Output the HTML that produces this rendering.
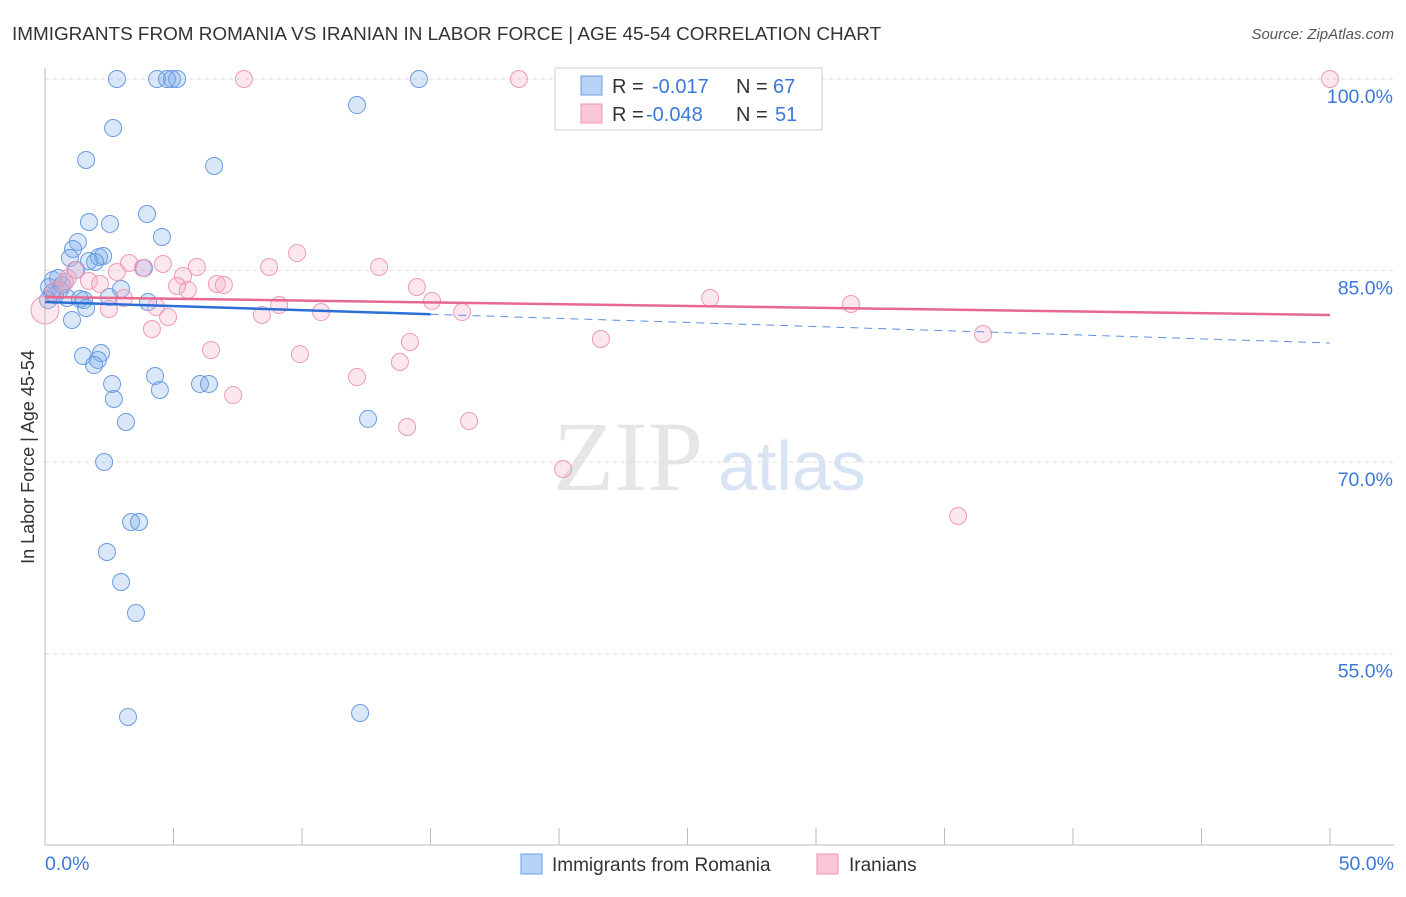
<!DOCTYPE html>
<html><head><meta charset="utf-8"><style>
body{margin:0;background:#fff;font-family:"Liberation Sans",sans-serif;}
svg text{font-family:"Liberation Sans",sans-serif;}
</style></head><body>
<svg id="chart" width="1406" height="892" xmlns="http://www.w3.org/2000/svg">
<text x="12" y="40" font-size="18.9" fill="#333">IMMIGRANTS FROM ROMANIA VS IRANIAN IN LABOR FORCE | AGE 45-54 CORRELATION CHART</text>
<text x="1394" y="39" font-size="15" fill="#555" font-style="italic" text-anchor="end">Source: ZipAtlas.com</text>
<text x="553" y="490" font-size="100" fill="#e6e6e6" font-family="Liberation Serif" style="font-family:'Liberation Serif',serif">ZIP</text>
<text x="718" y="490" font-size="70" fill="#d8e4f4">atlas</text>
<g id="grid"></g>
<g id="axes"></g>
<g id="pts"></g>
<g id="trends"></g>
<text transform="translate(34,457) rotate(-90)" font-size="18" fill="#333" text-anchor="middle">In Labor Force | Age 45-54</text>
<g>
<rect x="555" y="68" width="267" height="62" fill="#fff" stroke="#ccc"/>
<rect x="581" y="76" width="21" height="19" fill="#b7d3f6" stroke="#6a9fe0"/>
<rect x="581" y="104" width="21" height="19" fill="#f9c6d5" stroke="#ee94b0"/>
<text x="612" y="93" font-size="20" fill="#333">R =</text>
<text x="652" y="93" font-size="20" fill="#3b78d8">-0.017</text>
<text x="736" y="93" font-size="20" fill="#333">N =</text>
<text x="773" y="93" font-size="20" fill="#3b78d8">67</text>
<text x="612" y="121" font-size="20" fill="#333">R =</text>
<text x="646" y="121" font-size="20" fill="#3b78d8">-0.048</text>
<text x="736" y="121" font-size="20" fill="#333">N =</text>
<text x="775" y="121" font-size="20" fill="#3b78d8">51</text>
</g>
<g>
<rect x="521" y="854" width="21" height="20" fill="#b7d3f6" stroke="#6a9fe0"/>
<text x="552" y="871" font-size="19" fill="#333">Immigrants from Romania</text>
<rect x="817" y="854" width="21" height="20" fill="#f9c6d5" stroke="#ee94b0"/>
<text x="849" y="871" font-size="19" fill="#333">Iranians</text>
</g>
</svg>
<script>
const yTicks=[100,85,70,55];
const yTickLabels=["100.0%","85.0%","70.0%","55.0%"];
const xTickLabels=["0.0%","50.0%"];
const blueX=[2.80,4.36,4.75,4.94,5.14,14.55,12.14,2.65,1.60,6.58,3.97,1.71,2.53,4.55,1.28,1.09,0.97,2.10,2.26,1.71,1.95,3.85,1.21,0.31,0.78,0.16,0.58,0.27,2.96,0.86,1.36,1.52,2.49,4.01,1.60,1.05,1.48,2.18,2.06,1.91,2.61,4.28,6.03,6.38,4.47,2.68,3.15,12.57,2.30,3.35,3.66,2.41,2.96,3.54,3.23,12.26,0.39,0.12,0.66,0.51];
const blueY=[100,100,100,100,100,100,97.96,96.16,93.66,93.19,89.43,88.80,88.65,87.63,87.24,86.69,85.98,86.06,86.14,85.75,85.67,85.20,85.04,84.26,84.10,83.71,83.48,83.24,83.56,82.85,82.77,82.69,82.93,82.54,82.07,81.13,78.31,78.54,78.00,77.60,76.12,76.74,76.12,76.12,75.65,74.94,73.14,73.38,70.01,65.31,65.31,62.96,60.61,58.18,50.04,50.35,83.08,82.69,83.87,84.42];
const pinkX=[7.74,18.44,50,9.81,3.27,4.59,5.91,8.72,13.00,2.80,1.17,5.37,0.89,1.71,3.81,5.14,5.56,6.69,6.96,14.47,3.07,0.78,2.49,4.32,4.79,8.44,9.11,10.74,15.06,16.23,25.88,31.36,4.16,6.46,9.92,14.20,21.63,36.50,13.81,12.14,7.32,14.09,16.50,20.16,35.53,0,0.39,2.14];
const pinkY=[100,100,100,86.37,85.59,85.51,85.28,85.28,85.28,84.89,85.04,84.57,84.42,84.18,85.20,83.79,83.48,83.95,83.87,83.71,82.85,84.10,81.99,82.15,81.36,81.52,82.30,81.75,82.62,81.75,82.85,82.38,80.42,78.78,78.46,79.40,79.64,80.03,77.84,76.66,75.25,72.75,73.22,69.46,65.78,81.91,83.48,83.95];
const blueTrend=[82.54,79.33];
const blueSolidEnd=15;
const pinkTrend=[82.93,81.52];
const NS="http://www.w3.org/2000/svg";
const xs=v=>45+v*25.7;
const ys=v=>79+(100-v)*12.77;
function mk(tag,attrs,parent){const e=document.createElementNS(NS,tag);for(const k in attrs)e.setAttribute(k,attrs[k]);document.getElementById(parent).appendChild(e);return e;}
yTicks.forEach((t,i)=>{
 const g=mk('line',{x1:45,x2:1394,y1:ys(t),y2:ys(t),stroke:'#ddd','stroke-dasharray':'4,4'},'grid');
 
 
 const tx=mk('text',{x:1393,y:ys(t)+24,'font-size':19.5,fill:'#3b78d8','text-anchor':'end'},'grid');
 tx.textContent=yTickLabels[i];
 
 
});
const ax=mk('line',{x1:45,x2:45,y1:68,y2:845,stroke:'#bbb'},'axes');


const bx=mk('line',{x1:45,x2:1394,y1:845,y2:845,stroke:'#bbb'},'axes');


for(let i=0;i<=10;i++){const tk=mk('line',{x1:xs(i*5),x2:xs(i*5),y1:828,y2:845,stroke:'#bbb'},'axes');
 
 }
[[0,'start',45],[50,'end',1394]].forEach((a,i)=>{const t=mk('text',{x:a[2],y:870,'font-size':19.5,fill:'#3b78d8','text-anchor':a[1]},'axes');t.textContent=xTickLabels[i];
 
 });
blueX.forEach((x,i)=>{const c=mk('circle',{cx:xs(x),cy:ys(blueY[i]),r:8.5,fill:'rgba(120,170,235,0.28)',stroke:'#6a9be0','stroke-width':1},'pts');
 
 });
pinkX.forEach((x,i)=>{const c=mk('circle',{cx:xs(x),cy:ys(pinkY[i]),r:i==45?14:8.5,fill:'rgba(245,170,195,0.28)',stroke:'#ee9ab7','stroke-width':1},'pts');
 
 });
const bAt=x=>blueTrend[0]+(blueTrend[1]-blueTrend[0])*x/50;
const l1=mk('line',{x1:xs(0),y1:ys(bAt(0)),x2:xs(blueSolidEnd),y2:ys(bAt(blueSolidEnd)),stroke:'#2b6fd6','stroke-width':2.5},'trends');


const l2=mk('line',{x1:xs(blueSolidEnd),y1:ys(bAt(blueSolidEnd)),x2:xs(50),y2:ys(bAt(50)),stroke:'#5b8fde','stroke-width':1,'stroke-dasharray':'8,6'},'trends');


const l3=mk('line',{x1:xs(0),y1:ys(pinkTrend[0]),x2:xs(50),y2:ys(pinkTrend[1]),stroke:'#e8688f','stroke-width':2.5},'trends');


</script>
</body></html>
